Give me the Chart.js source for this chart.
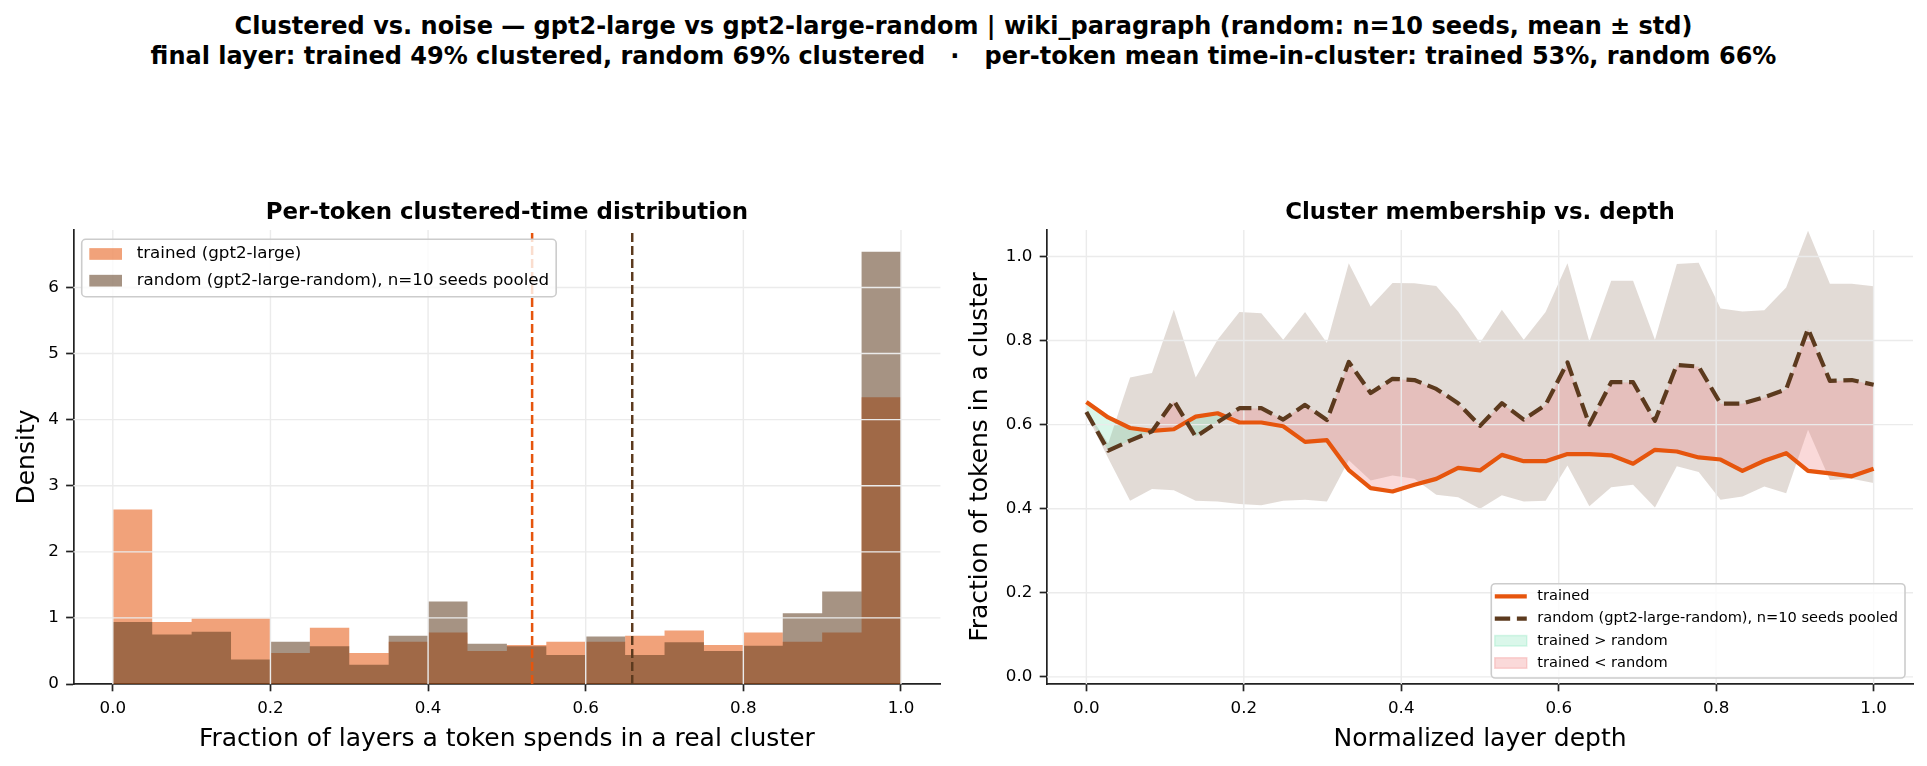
<!DOCTYPE html>
<html>
<head>
<meta charset="utf-8">
<script src="https://cdn.jsdelivr.net/npm/chart.js@4"></script>
<style>
  html, body { margin: 0; padding: 0; background: #fff; }
  body { width: 1927px; height: 766px; position: relative; overflow: hidden; font-family: "DejaVu Sans", sans-serif; }
  #suptitle { position: absolute; left: 0; top: 11px; width: 1927px; text-align: center; font-weight: bold;
              font-size: 24px; line-height: 30px; color: #000; white-space: pre; }
  canvas { position: absolute; top: 150px; }
  #hist { left: 0; }
  #depth { left: 963px; }
</style>
</head>
<body>
<div id="suptitle">Clustered vs. noise — gpt2-large vs gpt2-large-random | wiki_paragraph (random: n=10 seeds, mean ± std)
final layer: trained 49% clustered, random 69% clustered   ·   per-token mean time-in-cluster: trained 53%, random 66%</div>
<canvas id="hist" width="963" height="616"></canvas>
<canvas id="depth" width="964" height="616"></canvas>
<script>
// ---- left panel: histogram of per-token clustered time ----
const binEdges = [0.00, 0.05, 0.10, 0.15, 0.20, 0.25, 0.30, 0.35, 0.40, 0.45, 0.50,
                  0.55, 0.60, 0.65, 0.70, 0.75, 0.80, 0.85, 0.90, 0.95, 1.00];
const trainedDensity = [2.64, 0.94, 0.99, 0.99, 0.47, 0.85, 0.47, 0.64, 0.78, 0.50,
                        0.59, 0.64, 0.64, 0.73, 0.81, 0.59, 0.78, 0.64, 0.78, 4.34];
const randomDensity = [0.94, 0.75, 0.79, 0.37, 0.64, 0.57, 0.29, 0.73, 1.25, 0.61,
                       0.57, 0.44, 0.72, 0.44, 0.63, 0.50, 0.58, 1.07, 1.40, 6.54];
const trainedMeanTime = 0.532;
const randomMeanTime = 0.659;
const histXTicks = [0, 0.2, 0.4, 0.6, 0.8, 1.0];
const histYTicks = [0, 1, 2, 3, 4, 5, 6];
const histYMax = 6.87;

// ---- right panel: membership vs depth (37 layers) ----
const layerIdx = [0, 1, 2, 3, 4, 5, 6, 7, 8, 9, 10, 11, 12, 13, 14, 15, 16, 17, 18,
                  19, 20, 21, 22, 23, 24, 25, 26, 27, 28, 29, 30, 31, 32, 33, 34, 35, 36];
const nLayers = 36;
const trainedFrac = [0.654, 0.617, 0.592, 0.585, 0.589, 0.619, 0.627, 0.605, 0.605, 0.596,
                     0.559, 0.563, 0.492, 0.449, 0.441, 0.457, 0.471, 0.497, 0.491, 0.528,
                     0.513, 0.513, 0.530, 0.530, 0.527, 0.507, 0.540, 0.536, 0.522, 0.517,
                     0.490, 0.514, 0.532, 0.490, 0.484, 0.477, 0.495];
const randomMean = [0.630, 0.538, 0.562, 0.584, 0.657, 0.571, 0.606, 0.639, 0.639, 0.612,
                    0.647, 0.611, 0.749, 0.675, 0.709, 0.706, 0.685, 0.651, 0.597, 0.651,
                    0.612, 0.647, 0.748, 0.600, 0.701, 0.701, 0.609, 0.742, 0.738, 0.650,
                    0.650, 0.665, 0.684, 0.828, 0.704, 0.706, 0.695];
const randomUpper = [0.635, 0.555, 0.712, 0.723, 0.873, 0.712, 0.802, 0.868, 0.865, 0.802,
                     0.868, 0.794, 0.984, 0.881, 0.937, 0.936, 0.930, 0.869, 0.794, 0.873,
                     0.802, 0.868, 0.984, 0.798, 0.942, 0.942, 0.802, 0.982, 0.985, 0.876,
                     0.869, 0.872, 0.926, 1.061, 0.935, 0.935, 0.929];
const randomLower = [0.625, 0.520, 0.419, 0.447, 0.444, 0.419, 0.417, 0.411, 0.408, 0.419,
                     0.421, 0.417, 0.515, 0.467, 0.479, 0.471, 0.433, 0.427, 0.400, 0.432,
                     0.417, 0.419, 0.503, 0.406, 0.451, 0.457, 0.403, 0.501, 0.487, 0.421,
                     0.429, 0.453, 0.437, 0.588, 0.468, 0.471, 0.461];
const depthTicks = [0, 0.2, 0.4, 0.6, 0.8, 1.0];
const fracTicks = [0, 0.2, 0.4, 0.6, 0.8, 1.0];

const ORANGE = '#e6550d';
const BROWN = '#5c3a1e';
Chart.defaults.font.family = '"DejaVu Sans"';
Chart.defaults.color = '#000';

const depth = layerIdx.map(l => l / nLayers);
const pts = vals => vals.map((v, i) => ({x: depth[i], y: v}));
// histogram as a filled step outline: each bin height holds until the next edge
const histPts = dens => binEdges.map((e, i) => ({x: e, y: dens[Math.min(i, dens.length - 1)]}));

// light grid drawn above fills/bars but under the lines
const gridOver = {
  id: 'gridOver',
  beforeDatasetDraw(chart, args, o) {
    if (args.index !== o.beforeIndex) return;
    const {ctx, chartArea: a, scales: {x, y}} = chart;
    ctx.save();
    ctx.strokeStyle = '#ebebeb';
    ctx.lineWidth = 1.4;
    ctx.beginPath();
    x.ticks.forEach(t => { const p = x.getPixelForValue(t.value); ctx.moveTo(p, a.top); ctx.lineTo(p, a.bottom); });
    y.ticks.forEach(t => {
      const p = y.getPixelForValue(t.value);
      if (p > a.bottom - 1) return;
      ctx.moveTo(a.left, p); ctx.lineTo(a.right, p);
    });
    ctx.stroke();
    ctx.restore();
  }
};

// matplotlib-like framed legend
const boxLegend = {
  id: 'boxLegend',
  afterDraw(chart, args, o) {
    const {ctx, chartArea: a} = chart;
    ctx.save();
    ctx.font = o.fontSize + 'px "DejaVu Sans"';
    const textW = Math.max(...o.items.map(it => ctx.measureText(it.text).width));
    const w = o.pad + o.handleW + o.gap + textW + o.padR;
    const h = o.padTop + o.rowH * (o.items.length - 1) + o.padBottom;
    const x0 = o.corner === 'tl' ? a.left + o.dx : a.right - o.dx - w;
    const y0 = o.corner === 'tl' ? a.top + o.dy : a.bottom - o.dy - h;
    ctx.beginPath();
    ctx.roundRect(x0, y0, w, h, 4);
    ctx.fillStyle = 'rgba(255,255,255,0.8)';
    ctx.fill();
    ctx.lineWidth = 1.6;
    ctx.strokeStyle = '#cccccc';
    ctx.stroke();
    o.items.forEach((it, i) => {
      const cy = y0 + o.padTop + i * o.rowH;
      const hx = x0 + o.pad;
      if (it.kind === 'patch') {
        ctx.fillStyle = it.color;
        ctx.fillRect(hx, cy - o.patchH / 2, o.handleW, o.patchH);
        if (it.edge) {
          ctx.strokeStyle = it.color;
          ctx.lineWidth = 1.5;
          ctx.strokeRect(hx, cy - o.patchH / 2, o.handleW, o.patchH);
        }
      } else {
        ctx.strokeStyle = it.color;
        ctx.lineWidth = it.width;
        ctx.setLineDash(it.dash || []);
        ctx.beginPath();
        ctx.moveTo(hx, cy);
        ctx.lineTo(hx + o.handleW, cy);
        ctx.stroke();
        ctx.setLineDash([]);
      }
      ctx.fillStyle = '#000';
      ctx.textBaseline = 'middle';
      ctx.textAlign = 'left';
      ctx.fillText(it.text, hx + o.handleW + o.gap, cy);
    });
    ctx.restore();
  }
};

function axisOpts(ticksArr, fmt, min, max, fitSize, horizontal, titleText, titlePad) {
  return {
    type: 'linear',
    min: min,
    max: max,
    offset: false,
    z: 1,
    afterBuildTicks: s => { s.ticks = ticksArr.map(v => ({value: v})); },
    afterFit: s => { if (horizontal) s.height = fitSize; else s.width = fitSize; },
    ticks: {font: {size: 16.7}, color: '#000', padding: 7.3, autoSkip: false, maxRotation: 0,
            callback: v => fmt(v)},
    grid: {offset: false, drawOnChartArea: false, drawTicks: true, tickLength: 7.3,
           tickColor: '#222', tickWidth: 1.7},
    border: {display: true, color: '#222', width: 1.7},
    title: {display: true, text: titleText, font: {size: 25}, color: '#000', padding: titlePad}
  };
}

new Chart(document.getElementById('hist'), {
  type: 'line',
  data: {
    datasets: [
      {data: [{x: trainedMeanTime, y: 0}, {x: trainedMeanTime, y: histYMax}],
       borderColor: ORANGE, borderWidth: 2.5, borderDash: [9, 4], pointRadius: 0, fill: false},
      {data: [{x: randomMeanTime, y: 0}, {x: randomMeanTime, y: histYMax}],
       borderColor: BROWN, borderWidth: 2.5, borderDash: [9, 4], pointRadius: 0, fill: false},
      {label: 'random', data: histPts(randomDensity), stepped: 'before', fill: 'origin',
       backgroundColor: 'rgba(92,58,30,0.55)', borderWidth: 0, borderColor: 'rgba(0,0,0,0)', pointRadius: 0},
      {label: 'trained', data: histPts(trainedDensity), stepped: 'before', fill: 'origin',
       backgroundColor: 'rgba(230,85,13,0.55)', borderWidth: 0, borderColor: 'rgba(0,0,0,0)', pointRadius: 0}
    ]
  },
  options: {
    responsive: false,
    animation: false,
    events: [],
    layout: {padding: {left: 0, right: 22.6, top: 0, bottom: 0}},
    scales: {
      x: axisOpts(histXTicks, v => v.toFixed(1), -0.05, 1.05, 82, true,
                  'Fraction of layers a token spends in a real cluster', {top: 0, bottom: 12}),
      y: axisOpts(histYTicks, v => String(v), 0, histYMax, 73.4, false,
                  'Density', {top: 12, bottom: 0})
    },
    plugins: {
      legend: {display: false},
      tooltip: {enabled: false},
      title: {display: true, text: 'Per-token clustered-time distribution', fullSize: false,
              font: {size: 22.9, weight: 'bold'}, color: '#000', padding: {top: 49.5, bottom: 3}},
      gridOver: {beforeIndex: 1},
      boxLegend: {
        corner: 'tl', dx: 8.3, dy: 9.3, pad: 7.6, handleW: 32.7, gap: 14.7, padR: 7,
        padTop: 14.7, rowH: 26.7, padBottom: 16, patchH: 11.7, fontSize: 16.7,
        items: [
          {kind: 'patch', color: 'rgba(230,85,13,0.55)', text: 'trained (gpt2-large)'},
          {kind: 'patch', color: 'rgba(92,58,30,0.55)', text: 'random (gpt2-large-random), n=10 seeds pooled'}
        ]
      }
    }
  },
  plugins: [gridOver, boxLegend]
});

const GREEN_FILL = 'rgba(70,215,150,0.2)';
const PINK_FILL = 'rgba(240,128,128,0.3)';
const BAND_FILL = 'rgba(92,58,30,0.18)';

new Chart(document.getElementById('depth'), {
  type: 'line',
  data: {
    datasets: [
      {label: 'random', data: pts(randomMean), borderColor: BROWN, borderWidth: 4.2,
       borderDash: [15.4, 6.7], pointRadius: 0, tension: 0, fill: false, borderJoinStyle: 'round'},
      {label: 'trained', data: pts(trainedFrac), borderColor: ORANGE, borderWidth: 4.2,
       pointRadius: 0, tension: 0, borderJoinStyle: 'round',
       fill: {target: 0, above: GREEN_FILL, below: PINK_FILL}},
      {label: 'upper', data: pts(randomUpper), borderWidth: 0, borderColor: 'rgba(0,0,0,0)',
       pointRadius: 0, tension: 0, fill: {target: 3, above: BAND_FILL, below: BAND_FILL}},
      {label: 'lower', data: pts(randomLower), borderWidth: 0, borderColor: 'rgba(0,0,0,0)',
       pointRadius: 0, tension: 0, fill: false}
    ]
  },
  options: {
    responsive: false,
    animation: false,
    events: [],
    layout: {padding: {left: 0, right: 14, top: 0, bottom: 0}},
    scales: {
      x: axisOpts(depthTicks, v => v.toFixed(1), -0.05, 1.05, 82, true,
                  'Normalized layer depth', {top: 0, bottom: 12}),
      y: axisOpts(fracTicks, v => v.toFixed(1), -0.017, 1.063, 84, false,
                  'Fraction of tokens in a cluster', {top: 2, bottom: 0})
    },
    plugins: {
      legend: {display: false},
      tooltip: {enabled: false},
      title: {display: true, text: 'Cluster membership vs. depth', fullSize: false,
              font: {size: 22.9, weight: 'bold'}, color: '#000', padding: {top: 49.5, bottom: 3}},
      gridOver: {beforeIndex: 1},
      boxLegend: {
        corner: 'br', dx: 8, dy: 6, pad: 3.5, handleW: 32, gap: 10.5, padR: 7,
        padTop: 12.7, rowH: 22.2, padBottom: 15, patchH: 10.5, fontSize: 14.6,
        items: [
          {kind: 'line', color: ORANGE, width: 4.2, text: 'trained'},
          {kind: 'line', color: BROWN, width: 4.2, dash: [15.4, 6.7], text: 'random (gpt2-large-random), n=10 seeds pooled'},
          {kind: 'patch', color: GREEN_FILL, edge: true, text: 'trained > random'},
          {kind: 'patch', color: PINK_FILL, edge: true, text: 'trained < random'}
        ]
      }
    }
  },
  plugins: [gridOver, boxLegend]
});
</script>
</body>
</html>
